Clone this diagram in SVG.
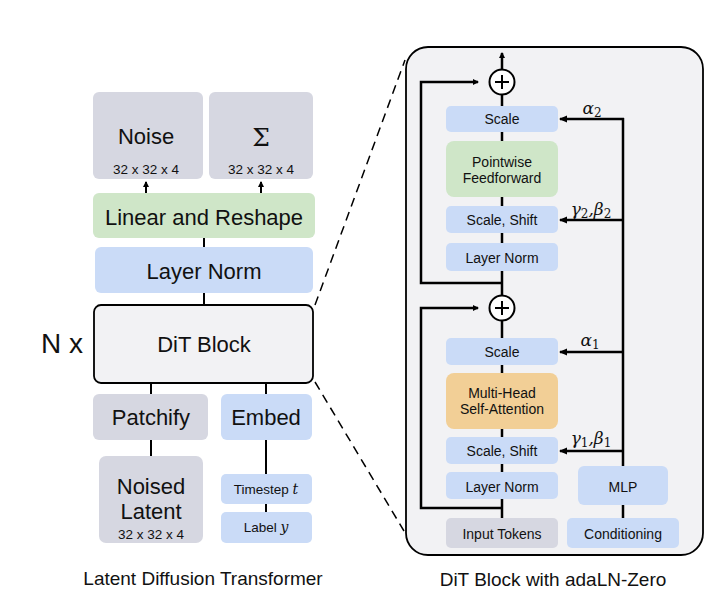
<svg xmlns="http://www.w3.org/2000/svg" width="718" height="602" viewBox="0 0 718 602">
<defs>
<marker id="ah" markerWidth="8" markerHeight="8" refX="7" refY="4" orient="auto" markerUnits="userSpaceOnUse">
<path d="M0,0.5 L8,4 L0,7.5 Z" fill="#000"/>
</marker>
<marker id="ahs" markerWidth="6" markerHeight="6" refX="5" refY="3" orient="auto" markerUnits="userSpaceOnUse">
<path d="M0,0 L6,3 L0,6 Z" fill="#000"/>
</marker>
<style>
text{font-family:"Liberation Sans",Arial,sans-serif;fill:#111;text-anchor:middle}
.blue{fill:#cadbf7}
.gray{fill:#d6d7e1}
.green{fill:#cfe6c8}
.orange{fill:#f2cf96}
.ln{stroke:#000;stroke-width:2.5;fill:none}
.lnt{stroke:#000;stroke-width:2;fill:none}
.big{font-size:22px}
.sm{font-size:13.5px}
.mid{font-size:14px}
.cap{font-size:19px}
.math{font-family:"DejaVu Serif","Liberation Serif",serif;font-style:italic}
</style>
</defs>
<rect width="718" height="602" fill="#fff"/>

<!-- Right container -->
<g id="dit-panel">
<rect x="406" y="47" width="297" height="508" rx="22" fill="#f2f2f4" stroke="#000" stroke-width="1.8"/>
</g>

<!-- connectors -->
<g id="connectors">
<line class="lnt" x1="146" y1="193" x2="146" y2="182" marker-end="url(#ahs)"/>
<line class="lnt" x1="261" y1="193" x2="261" y2="182" marker-end="url(#ahs)"/>
<line class="lnt" x1="204" y1="238" x2="204" y2="247"/>
<line class="lnt" x1="204" y1="293" x2="204" y2="305"/>
<line class="lnt" x1="151" y1="383" x2="151" y2="394"/>
<line class="lnt" x1="266" y1="383" x2="266" y2="394"/>
<line class="lnt" x1="151" y1="440" x2="151" y2="456"/>
<line class="lnt" x1="266" y1="440" x2="266" y2="474"/>
<line class="lnt" x1="266" y1="504" x2="266" y2="512"/>
<line x1="315" y1="305" x2="405" y2="60" stroke="#000" stroke-width="1.5" stroke-dasharray="9,6"/>
<line x1="315" y1="382" x2="404" y2="531" stroke="#000" stroke-width="1.5" stroke-dasharray="9,6"/>
<line class="ln" x1="502" y1="518" x2="502" y2="321"/>
<line class="ln" x1="502" y1="296" x2="502" y2="95"/>
<line class="ln" x1="502" y1="70" x2="502" y2="53" marker-end="url(#ahs)"/>
<polyline class="ln" points="502,508 421,508 421,308 478,308" marker-end="url(#ahs)"/>
<polyline class="ln" points="502,283 421,283 421,82 478,82" marker-end="url(#ahs)"/>
<line class="ln" x1="623" y1="518" x2="623" y2="505"/>
<line class="ln" x1="623" y1="466" x2="623" y2="118"/>
<polyline class="ln" points="624,119 560,119" marker-end="url(#ah)"/>
<polyline class="ln" points="624,220 560,220" marker-end="url(#ah)"/>
<polyline class="ln" points="624,352 560,352" marker-end="url(#ah)"/>
<polyline class="ln" points="624,451 560,451" marker-end="url(#ah)"/>
</g>

<!-- Left nodes -->
<g id="noise">
<rect class="gray" x="93" y="92" width="110" height="87" rx="6"/>
<text class="big" x="146" y="144">Noise</text>
<text class="sm" x="146" y="174">32 x 32 x 4</text>
</g>
<g id="sigma">
<rect class="gray" x="209" y="92" width="104" height="87" rx="6"/>
<text x="261" y="146" style="font-family:'DejaVu Serif','Liberation Serif',serif;font-size:25px">Σ</text>
<text class="sm" x="261" y="174">32 x 32 x 4</text>
</g>
<g id="linear">
<rect class="green" x="93" y="193" width="222" height="45" rx="6"/>
<text class="big" x="204" y="225">Linear and Reshape</text>
</g>
<g id="layernorm-left">
<rect class="blue" x="95" y="247" width="218" height="46" rx="6"/>
<text class="big" x="204" y="279">Layer Norm</text>
</g>
<g id="dit-block">
<rect x="94" y="305" width="219" height="78" rx="7" fill="#f2f2f4" stroke="#000" stroke-width="1.8"/>
<text class="big" x="204" y="352">DiT Block</text>
<text x="62" y="353" style="font-size:28px">N x</text>
</g>
<g id="patchify">
<rect class="gray" x="93" y="394" width="115" height="46" rx="6"/>
<text class="big" x="151" y="425">Patchify</text>
</g>
<g id="embed">
<rect class="blue" x="221" y="394" width="91" height="46" rx="6"/>
<text class="big" x="266" y="425">Embed</text>
</g>
<g id="noised-latent">
<rect class="gray" x="99" y="456" width="104" height="87" rx="7"/>
<text class="big" x="151" y="494">Noised</text>
<text class="big" x="151" y="519">Latent</text>
<text class="sm" x="151" y="539">32 x 32 x 4</text>
</g>
<g id="timestep">
<rect class="blue" x="221" y="474" width="91" height="30" rx="5"/>
<text class="sm" x="266" y="494">Timestep <tspan class="math" style="font-size:14px">t</tspan></text>
</g>
<g id="label">
<rect class="blue" x="221" y="512" width="91" height="31" rx="5"/>
<text class="sm" x="266" y="532">Label <tspan class="math" style="font-size:14px">y</tspan></text>
</g>
<g id="caption-left">
<text class="cap" x="203" y="585">Latent Diffusion Transformer</text>
</g>

<!-- Right nodes -->
<g id="plus-top">
<circle cx="502" cy="82" r="12.5" fill="#fff" stroke="#000" stroke-width="2"/>
<path d="M495,82 H509 M502,75 V89" stroke="#000" stroke-width="2"/>
</g>
<g id="scale-2">
<rect class="blue" x="446" y="106" width="112" height="26" rx="5"/>
<text class="mid" x="502" y="124">Scale</text>
</g>
<g id="ffn">
<rect class="green" x="446" y="141" width="112" height="56" rx="8"/>
<text class="mid" x="502" y="167">Pointwise</text>
<text class="mid" x="502" y="183">Feedforward</text>
</g>
<g id="scaleshift-2">
<rect class="blue" x="446" y="206" width="112" height="27" rx="5"/>
<text class="mid" x="502" y="225">Scale, Shift</text>
</g>
<g id="layernorm-2">
<rect class="blue" x="446" y="243" width="112" height="28" rx="5"/>
<text class="mid" x="502" y="263">Layer Norm</text>
</g>
<g id="plus-mid">
<circle cx="502" cy="308" r="12.5" fill="#fff" stroke="#000" stroke-width="2"/>
<path d="M495,308 H509 M502,301 V315" stroke="#000" stroke-width="2"/>
</g>
<g id="scale-1">
<rect class="blue" x="446" y="338" width="112" height="27" rx="5"/>
<text class="mid" x="502" y="357">Scale</text>
</g>
<g id="mhsa">
<rect class="orange" x="446" y="373" width="112" height="56" rx="8"/>
<text class="mid" x="502" y="398">Multi-Head</text>
<text class="mid" x="502" y="414">Self-Attention</text>
</g>
<g id="scaleshift-1">
<rect class="blue" x="446" y="437" width="112" height="27" rx="5"/>
<text class="mid" x="502" y="456">Scale, Shift</text>
</g>
<g id="layernorm-1">
<rect class="blue" x="446" y="472" width="112" height="27" rx="5"/>
<text class="mid" x="502" y="492">Layer Norm</text>
</g>
<g id="input-tokens">
<rect class="gray" x="446" y="518" width="112" height="30" rx="5"/>
<text class="mid" x="502" y="539">Input Tokens</text>
</g>
<g id="mlp">
<rect class="blue" x="578" y="466" width="90" height="39" rx="6"/>
<text class="mid" x="623" y="492">MLP</text>
</g>
<g id="conditioning">
<rect class="blue" x="567" y="518" width="112" height="30" rx="5"/>
<text class="mid" x="623" y="539">Conditioning</text>
</g>
<g id="labels">
<text class="math" x="592" y="114" style="font-size:17px">α<tspan style="font-size:12px;font-style:normal" dy="3">2</tspan></text>
<text class="math" x="591" y="215" style="font-size:17px">γ<tspan style="font-size:12px;font-style:normal" dy="3">2</tspan><tspan dy="-3">,β</tspan><tspan style="font-size:12px;font-style:normal" dy="3">2</tspan></text>
<text class="math" x="590" y="346" style="font-size:17px">α<tspan style="font-size:12px;font-style:normal" dy="3">1</tspan></text>
<text class="math" x="591" y="444" style="font-size:17px">γ<tspan style="font-size:12px;font-style:normal" dy="3">1</tspan><tspan dy="-3">,β</tspan><tspan style="font-size:12px;font-style:normal" dy="3">1</tspan></text>
</g>
<g id="caption-right">
<text class="cap" x="553" y="586">DiT Block with adaLN-Zero</text>
</g>
</svg>
